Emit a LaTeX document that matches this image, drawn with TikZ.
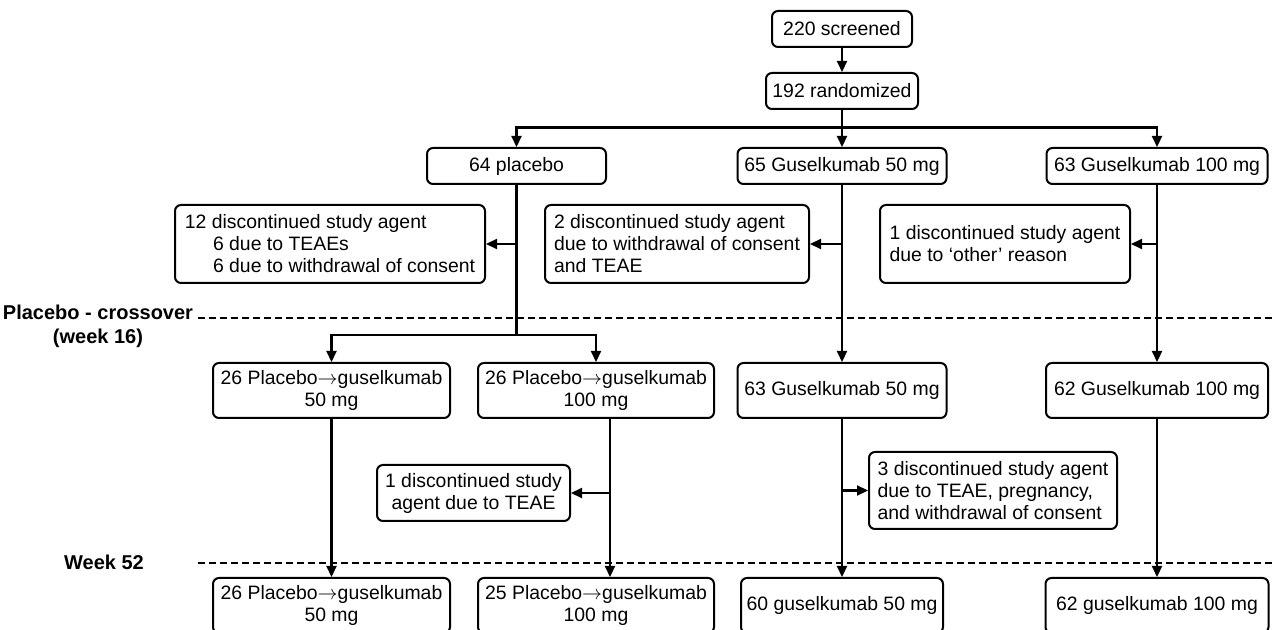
\documentclass[tikz,border=0pt]{standalone}
\usepackage{fontspec}
\setmainfont{Liberation Sans}
\usepackage{tikz}
\usetikzlibrary{arrows.meta, positioning, calc}
\tikzset{
    boite/.style={draw, line width=1pt, rounded corners=3pt, inner sep=0pt, align=center, minimum height=18pt},
    boite2/.style={boite, minimum height=27.5pt},
    boite3/.style={boite, align=left, minimum height=39pt},
    fleche/.style={-{Triangle[length=5.5pt, width=5pt]}, line width=1.1pt},
    trait/.style={line width=1.1pt},
    pointille/.style={line width=0.9pt, dash pattern=on 3.5pt off 2pt},
    etiquette/.style={font=\bfseries, align=center},
}
\newcommand{\pg}{Placebo$\rightarrow$guselkumab}

\begin{document}
\begin{tikzpicture}[x=0.5pt, y=-0.5pt, font=\fontsize{9.7}{11}\selectfont]
\useasboundingbox (0,0) rectangle (1275,630);
\clip (0,0) rectangle (1275,630);

% lignes de temps
\draw[pointille] (198,318) -- (1275,318);
\draw[pointille] (198,563) -- (1275,563);
\node[etiquette] (cross) at (98,326) {Placebo - crossover\\(week 16)};
\node[etiquette] (wk52) at (104,562) {Week 52};

% haut
\node[boite, minimum width=70pt] (scr) at (842,29) {220 screened};
\node[boite, minimum width=76pt] (rnd) at (842,91) {192 randomized};
\node[boite, minimum width=89.5pt] (plc) at (516.5,166) {64 placebo};
\node[boite, minimum width=104.5pt] (g50) at (842,166) {65 Guselkumab 50 mg};
\node[boite, minimum width=110.5pt] (g100) at (1157,166) {63 Guselkumab 100 mg};

\node[boite3, minimum width=155pt] (disc1) at (330,244) {12 discontinued study agent\\\hspace*{1.45em}6 due to TEAEs\\\hspace*{1.45em}6 due to withdrawal of consent};
\node[boite3, minimum width=132pt] (disc2) at (677,244) {2 discontinued study agent\\due to withdrawal of consent\\and TEAE};
\node[boite3, minimum width=125pt] (disc3) at (1005,244) {1 discontinued study agent\\due to ‘other’ reason};

% semaine 16
\node[boite2, minimum width=118.5pt] (pg50) at (331.5,390.5) {26 \pg\\50 mg};
\node[boite2, minimum width=118pt] (pg100) at (596,390.5) {26 \pg\\100 mg};
\node[boite2, minimum width=104.5pt] (g50b) at (842,390.5) {63 Guselkumab 50 mg};
\node[boite2, minimum width=111pt] (g100b) at (1157,390.5) {62 Guselkumab 100 mg};

\node[boite2, minimum width=96.5pt, minimum height=28pt] (disc4) at (473.5,493) {1 discontinued study\\agent due to TEAE};
\node[boite3, minimum width=124pt, minimum height=38.5pt] (disc5) at (993,490.5) {3 discontinued study agent\\due to TEAE, pregnancy,\\and withdrawal of consent};

% semaine 52
\node[boite2, minimum width=118.5pt] (pg50c) at (331.5,605.5) {26 \pg\\50 mg};
\node[boite2, minimum width=118pt] (pg100c) at (596,605.5) {25 \pg\\100 mg};
\node[boite2, minimum width=101pt] (g50c) at (842,605.5) {60 guselkumab 50 mg};
\node[boite2, minimum width=111.5pt] (g100c) at (1157,605.5) {62 guselkumab 100 mg};

% fleches
\coordinate (br1) at (842,127.5);
\coordinate (br2) at (516.5,335);
\draw[fleche] (scr) -- (rnd);
\draw[fleche] (rnd) -- (g50);
\draw[fleche] (br1) -| (plc.north);
\draw[fleche] (br1) -| (g100.north);
\draw[trait] (plc.south) -- (br2);
\draw[fleche] (br2) -| (pg50.north);
\draw[fleche] (br2) -| (pg100.north);
\draw[fleche] (g50) -- (g50b);
\draw[fleche] (g100) -- (g100b);
\draw[fleche] (plc.south |- disc1.east) -- (disc1.east);
\draw[fleche] (g50.south |- disc2.east) -- (disc2.east);
\draw[fleche] (g100.south |- disc3.east) -- (disc3.east);

\draw[fleche] (pg50) -- (pg50c);
\draw[fleche] ([xshift=7pt]pg100.south) -- ([xshift=7pt]pg100c.north);
\draw[fleche] ([xshift=7pt]pg100.south |- disc4.east) -- (disc4.east);
\draw[fleche] (g50b) -- (g50c);
\draw[fleche] (g50b.south |- disc5.west) -- (disc5.west);
\draw[fleche] (g100b) -- (g100c);
\end{tikzpicture}
\end{document}
